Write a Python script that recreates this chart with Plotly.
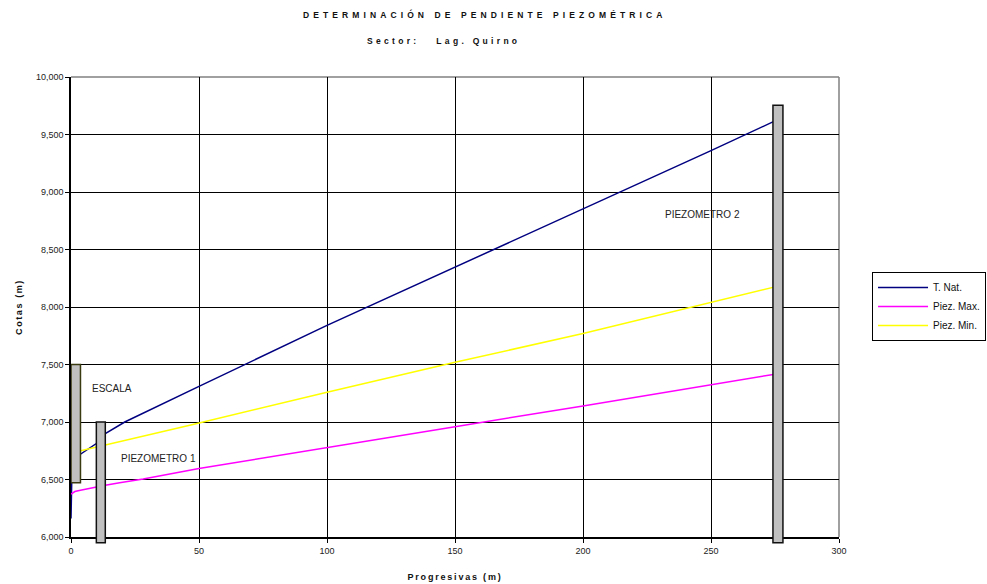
import plotly.graph_objects as go

# Progresivas (m) and cotas (m) for each profile
tnat_x = [0, 0.3, 1.5, 3.7, 9.9, 13.4, 21, 38.6, 50, 100, 150, 200, 250, 275]
tnat_y = [6160, 6500, 6650, 6720, 6813, 6900, 7000, 7189, 7310, 7840, 8345, 8850, 9360, 9618]

pmax_x = [0, 1.5, 3.7, 9.9, 13.4, 19, 28.2, 50, 73.7, 100, 150, 200, 250, 275]
pmax_y = [6372, 6395, 6407, 6438, 6450, 6472, 6505, 6596, 6683, 6780, 6959, 7140, 7320, 7416]

pmin_x = [0, 3.7, 13.4, 46.4, 100, 150, 200, 250, 275]
pmin_y = [6730, 6749, 6805, 6972, 7258, 7519, 7770, 8036, 8175]

series_names = ["T. Nat.", "Piez. Max.", "Piez. Min."]
series_colors = ["#000080", "#ff00ff", "#ffff00"]

x_ticks = [0, 50, 100, 150, 200, 250, 300]
y_ticks = [6000, 6500, 7000, 7500, 8000, 8500, 9000, 9500, 10000]

# Gauge / piezometer bars: (x0, x1, cota bottom, cota top)
escala = (0, 3.7, 6471, 7500)
piezometro1 = (9.9, 13.4, 5949, 7000)
piezometro2 = (274.2, 278.1, 5949, 9755)

X_RANGE = [0, 300]
Y_RANGE = [6000, 10000]

W, H = 987, 584
M = dict(l=71, r=148, t=77, b=47)
FONT = "Liberation Sans, Arial, sans-serif"

fig = go.Figure()
for xs, ys, name, color in zip([tnat_x, pmax_x, pmin_x], [tnat_y, pmax_y, pmin_y],
                                series_names, series_colors):
    fig.add_trace(go.Scatter(x=xs, y=ys, mode="lines", name=name,
                             line=dict(color=color, width=1.5)))


def to_paper_y(v):
    return (v - Y_RANGE[0]) / (Y_RANGE[1] - Y_RANGE[0])


def px_to_paper(px, py):
    pw = W - M["l"] - M["r"]
    ph = H - M["t"] - M["b"]
    return (px - M["l"]) / pw, (H - M["b"] - py) / ph


shapes = []
# plot area outline (top and right in grey)
shapes.append(dict(type="line", xref="paper", yref="paper", x0=0, x1=1, y0=1, y1=1,
                   line=dict(color="#808080", width=1.5), layer="below"))
shapes.append(dict(type="line", xref="paper", yref="paper", x0=1, x1=1, y0=0, y1=1,
                   line=dict(color="#808080", width=1.5), layer="below"))
for bar, edge in [(escala, "#3a3a10"), (piezometro1, "#111111"), (piezometro2, "#111111")]:
    x0, x1, b, t = bar
    shapes.append(dict(type="rect", xref="x", yref="paper",
                       x0=x0, x1=x1, y0=to_paper_y(b), y1=to_paper_y(t),
                       fillcolor="#c0c0c0", line=dict(color=edge, width=1.5),
                       layer="above"))

annotations = [
    dict(x=16, y=7294, text="ESCALA"),
    dict(x=34.3, y=6685, text="PIEZOMETRO 1"),
    dict(x=246.6, y=8807, text="PIEZOMETRO 2"),
]
for a in annotations:
    a.update(xref="x", yref="y", showarrow=False,
             font=dict(family=FONT, size=10, color="#222222"))

# chart title and subtitle
tx, ty = px_to_paper(484, 14)
sx, sy = px_to_paper(443, 41)
annotations.append(dict(
    x=tx, y=ty, xref="paper", yref="paper", xanchor="center", yanchor="middle",
    showarrow=False,
    text='<b><span style="letter-spacing:4.1px">DETERMINACIÓN DE PENDIENTE PIEZOMÉTRICA</span></b>',
    font=dict(family=FONT, size=8.5, color="#111111")))
annotations.append(dict(
    x=sx, y=sy, xref="paper", yref="paper", xanchor="center", yanchor="middle",
    showarrow=False,
    text='<b><span style="letter-spacing:3.3px">Sector:   Lag. Quirno</span></b>',
    font=dict(family=FONT, size=8.5, color="#111111")))

fig.update_layout(
    width=W, height=H,
    margin=dict(**M, autoexpand=False),
    paper_bgcolor="white", plot_bgcolor="white",
    shapes=shapes, annotations=annotations,
    xaxis=dict(
        range=X_RANGE, tickvals=x_ticks, ticktext=[str(v) for v in x_ticks],
        showgrid=True, gridcolor="black", gridwidth=1,
        showline=True, linecolor="black", linewidth=1.5,
        ticks="outside", ticklen=4, tickcolor="black",
        tickfont=dict(family=FONT, size=9, color="#222222"),
        zeroline=False,
        title=dict(text='<b><span style="letter-spacing:1.8px">Progresivas (m)</span></b>',
                   font=dict(family=FONT, size=9, color="#111111"), standoff=19),
    ),
    yaxis=dict(
        range=Y_RANGE, tickvals=y_ticks, tickformat=",d",
        showgrid=True, gridcolor="black", gridwidth=1,
        showline=True, linecolor="black", linewidth=1.5,
        ticks="outside", ticklen=4, tickcolor="black",
        tickfont=dict(family=FONT, size=9, color="#222222"),
        zeroline=False,
        title=dict(text='<b><span style="letter-spacing:1.6px">Cotas (m)</span></b>',
                   font=dict(family=FONT, size=9, color="#111111"), standoff=12),
    ),
    legend=dict(
        x=1.043, xanchor="left", y=0.576, yanchor="top",
        bgcolor="white", bordercolor="black", borderwidth=1,
        font=dict(family=FONT, size=10, color="#111111"),
        itemwidth=50, entrywidth=115, tracegroupgap=0,
    ),
    showlegend=True,
)

fig.write_html("out.html")
